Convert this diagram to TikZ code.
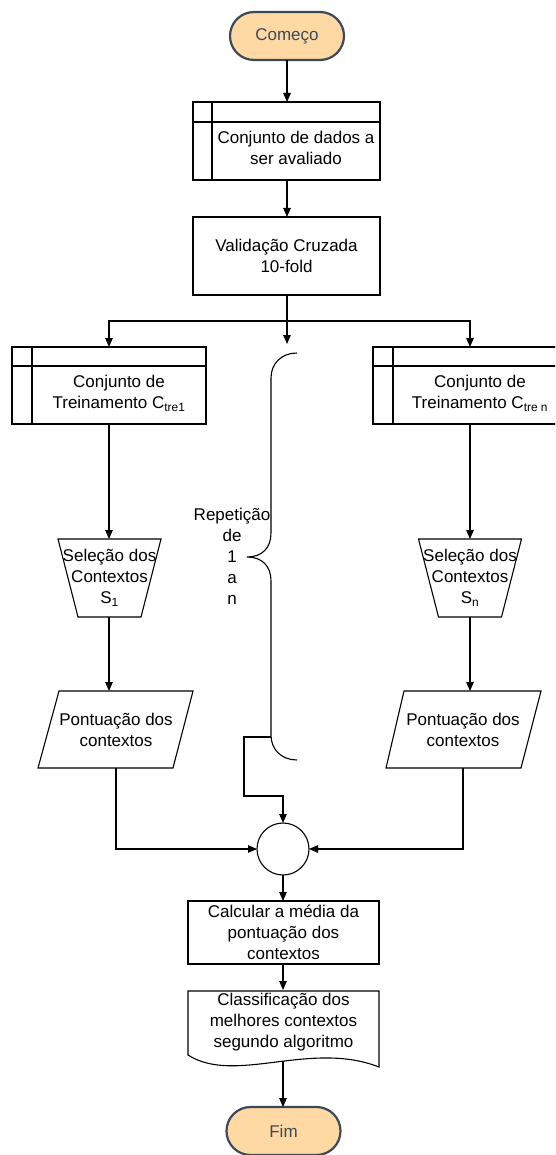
\documentclass[tikz,border=0pt]{standalone}
\usepackage{fontspec}
\setmainfont{Liberation Sans}
\usetikzlibrary{arrows.meta,calc}
\definecolor{termfill}{HTML}{FFD9A3}
\definecolor{termline}{HTML}{3B4A5A}
\begin{document}
\begin{tikzpicture}[x=1pt,y=-1pt,
  every node/.style={font=\fontsize{17}{21}\selectfont, align=center, inner sep=0pt, outer sep=0pt},
  ln/.style={line width=1.1pt, draw=black},
  arr/.style={ln, -{Triangle[length=9pt,width=7.5pt]}},
  term/.style={draw=termline, fill=termfill, line width=2.2pt, rounded corners=24pt, minimum width=114pt, minimum height=48pt, text=termline},
  box/.style={ln, minimum width=187pt, minimum height=78pt},
  ghost/.style={minimum width=#1, minimum height=78pt},
]
\clip (0,0) rectangle (555,1155);

% terminals and boxes
\node[term] (start) at (287,36) {Começo};
\node[box] (d1) at (286.5,141) {};
\draw[ln] ([xshift=19pt]d1.north west) -- ([xshift=19pt]d1.south west);
\draw[ln] ([yshift=-20pt]d1.north west) -- ([yshift=-20pt]d1.north east);
\node (d1t) at (296,148) {Conjunto de dados a\\ser avaliado};

\node[box] (val) at (286.5,256) {Validação Cruzada\\10-fold};
\coordinate (split) at (287,321);
\coordinate (bt) at (287,344);

\node[box, minimum width=194pt, minimum height=77pt] (L) at (109,385.5) {};
\draw[ln] ([xshift=20pt]L.north west) -- ([xshift=20pt]L.south west);
\draw[ln] ([yshift=-19pt]L.north west) -- ([yshift=-19pt]L.north east);
\node (Lt) at (119,393.5) {Conjunto de\\Treinamento C\textsubscript{tre1}};

\node[box, minimum width=194pt, minimum height=77pt] (R) at (470,385.5) {};
\draw[ln] ([xshift=20pt]R.north west) -- ([xshift=20pt]R.south west);
\draw[ln] ([yshift=-19pt]R.north west) -- ([yshift=-19pt]R.north east);
\node (Rt) at (480,393.5) {Conjunto de\\Treinamento C\textsubscript{tre n}};

% trapezoids
\node[ghost=103pt] (s1) at (109.5,578) {Seleção dos\\Contextos\\S\textsubscript{1}};
\draw[ln] ([xshift=-51.5pt]s1.north) -- ([xshift=51.5pt]s1.north) -- ([xshift=31.5pt]s1.south) -- ([xshift=-31.5pt]s1.south) -- cycle;
\node[ghost=103pt] (sn) at (470,578) {Seleção dos\\Contextos\\S\textsubscript{n}};
\draw[ln] ([xshift=-51.5pt]sn.north) -- ([xshift=51.5pt]sn.north) -- ([xshift=31.5pt]sn.south) -- ([xshift=-31.5pt]sn.south) -- cycle;

% parallelograms
\node[ghost=135pt, minimum height=77pt] (p1) at (116,729.5) {Pontuação dos\\contextos};
\draw[ln] ([xshift=-57pt]p1.north) -- ([xshift=77pt]p1.north) -- ([xshift=57pt]p1.south) -- ([xshift=-78pt]p1.south) -- cycle;
\node[ghost=135pt, minimum height=77pt] (pn) at (463,729.5) {Pontuação dos\\contextos};
\draw[ln] ([xshift=-59pt]pn.north) -- ([xshift=78pt]pn.north) -- ([xshift=58pt]pn.south) -- ([xshift=-77pt]pn.south) -- cycle;

% junction
\node[circle, ln, draw, minimum size=52pt] (c) at (283,849) {};

% brace
\draw[ln] (297,353) .. controls (282,353) and (271,363) .. (271,378) -- (271,533)
  .. controls (271,548) and (262,557) .. (247,557)
  .. controls (262,557) and (271,566) .. (271,581) -- (271,735)
  .. controls (271,750) and (282,760) .. (297,760);
\coordinate (bj) at (271,737);
\coordinate (bk) at (244,737);
\coordinate (bl) at (244,796);
\node (rep) at (232,556) {Repetição\\de\\1\\a\\n};

% lower part
\node[box, minimum width=191pt, minimum height=63pt] (calc) at (283.5,932.5) {Calcular a média da\\pontuação dos\\contextos};
\node[minimum width=191pt, minimum height=70pt] (doc) at (283.5,1026) {};
\draw[ln] (doc.north west) -- (doc.north east) -- ($(doc.south east)+(0,6)$)
  .. controls ($(doc.south)+(26.5,-21)$) and ($(doc.south)+(-48.5,24)$) .. ($(doc.south west)+(0,-6)$) -- cycle;
\node (doct) at (283.5,1022) {Classificação dos\\melhores contextos\\segundo algoritmo};
\node[term] (fim) at (283.5,1131) {Fim};

% connectors
\draw[arr] (start.south) -- (start.south |- d1.north);
\draw[arr] (d1.south -| start.south) -- (start.south |- val.north);
\draw[ln] (val.south -| split) -- (split);
\draw[arr] (split) -- (bt);
\draw[arr] (split) -| (L.north);
\draw[arr] (split) -| (R.north);
\draw[arr] (L.south) -- (L.south |- s1.north);
\draw[arr] (R.south) -- (R.south |- sn.north);
\draw[arr] (s1.south -| L.south) -- (L.south |- p1.north);
\draw[arr] (sn.south -| R.south) -- (R.south |- pn.north);
\draw[arr] (p1.south) |- (c.west);
\draw[arr] (pn.south) |- (c.east);
\draw[arr] (bj) -- (bk) -- (bl) -| (c.north);
\draw[arr] (c.south) -- (calc.north -| c.south);
\draw[arr] (calc.south -| c.south) -- ($(doc.north -| c.south)+(0,-1)$);
\draw[arr] (doc.south -| c.south) -- (fim.north -| c.south);
\end{tikzpicture}
\end{document}
